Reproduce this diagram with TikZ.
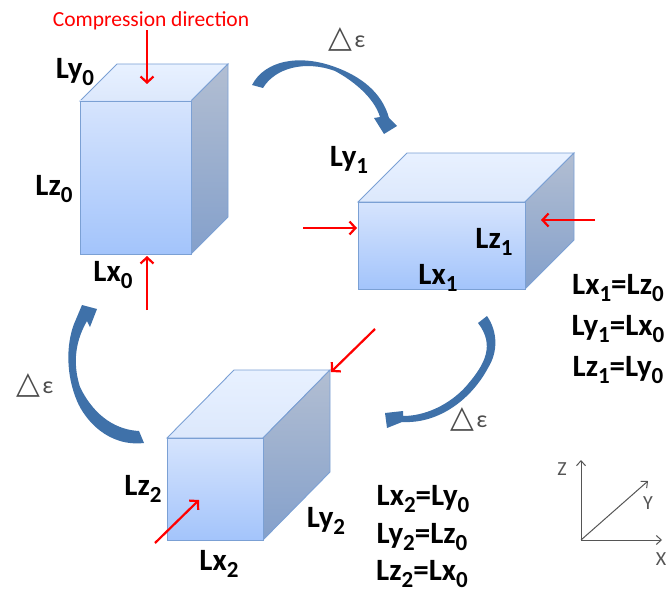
\documentclass[tikz,border=0pt]{standalone}
\usepackage{fontspec}
\setmainfont{Carlito}
\newfontfamily\symfont{DejaVu Sans}
\usetikzlibrary{arrows.meta}
\definecolor{redcol}{HTML}{FF0000}
\definecolor{edgecol}{HTML}{7BA0D4}
\definecolor{curvecol}{HTML}{3F71A9}
\definecolor{axiscol}{HTML}{555555}
\newcommand{\sbs}[1]{\raisebox{-.2em}{\fontsize{23}{23}\selectfont #1}}
\newcommand{\dlt}{{\symfont\fontsize{31}{31}\selectfont\char"25B3}\,\fontsize{24}{24}\selectfont ε}

\begin{document}
\begin{tikzpicture}[x=1pt,y=-1pt,
  lab/.style={font=\fontsize{31}{31}\selectfont\bfseries,inner sep=0pt,text=black},
  deltalab/.style={inner sep=0pt,text=black!70},
  axlab/.style={font=\fontsize{20}{20}\selectfont,inner sep=0pt,text=axiscol},
  squeeze/.style={draw=redcol,line width=2.2pt,-{Straight Barb[length=6pt,width=13pt]}},
  axisline/.style={draw=axiscol,line width=1pt,-{Straight Barb[length=5pt,width=9pt]}},
  curve/.style={fill=curvecol,draw=none},
]
\useasboundingbox (0,0) rectangle (670,594);

% ---------- boxes ----------
\foreach \fx/\fy/\fw/\fh/\dx/\dy in {80/101/111/153/37/37,358/202/167/87/49/49,167/438/96/102/67/68} {
  \shade[top color={rgb,255:red,232;green,241;blue,255},
         bottom color={rgb,255:red,220;green,232;blue,252},draw=edgecol,line width=0.9pt]
    (\fx,\fy) -- ++(\dx,-\dy) -- ++(\fw,0) -- ++(-\dx,\dy) -- cycle;
  \shade[top color={rgb,255:red,178;green,190;blue,210},
         bottom color={rgb,255:red,132;green,160;blue,203},draw=edgecol,line width=0.9pt]
    (\fx+\fw,\fy) -- ++(\dx,-\dy) -- ++(0,\fh) -- ++(-\dx,\dy) -- cycle;
  \shade[top color={rgb,255:red,214;green,228;blue,253},
         bottom color={rgb,255:red,163;green,196;blue,251},draw=edgecol,line width=0.9pt]
    (\fx,\fy) rectangle ++(\fw,\fh);
}

% ---------- curved arrows ----------
\fill[curve] (252,85) .. controls (265,60) and (300,54) .. (335,67)
  .. controls (360,76) and (382,92) .. (389,118) -- (397,126) -- (384,134) -- (374,118) -- (380,117)
  .. controls (374,97) and (352,80) .. (335,71) .. controls (305,60) and (275,68) .. (263,88) -- cycle;
\fill[curve] (478,323) -- (487,316) .. controls (498,332) and (498,352) .. (488,368)
  .. controls (472,398) and (440,424) .. (402,422) -- (387,428) -- (385,413) -- (403,411) -- (403,416)
  .. controls (430,416) and (455,400) .. (468,384) .. controls (485,364) and (495,345) .. (478,323) -- cycle;
\fill[curve] (144,443) -- (139,431) .. controls (118,430) and (95,418) .. (80,387)
  .. controls (74,368) and (73,345) .. (87,321) -- (90,327) -- (97,309) -- (82,305) -- (74,324)
  .. controls (66,345) and (66,375) .. (77,401) .. controls (85,420) and (108,447) .. (144,443) -- cycle;

% ---------- labels ----------
\node[font=\fontsize{21.5}{21.5}\selectfont,text=redcol,inner sep=0pt] (comp) at (151,21) {Compression direction};
\foreach \nm/\px/\py/\a/\b in {lyzero/75/72/Ly/0,lzzero/54/189/Lz/0,lxzero/113/275/Lx/0,
  lyone/349/160/Ly/1,lzone/494/242/Lz/1,lxone/438/278/Lx/1,
  lztwo/143/489/Lz/2,lytwo/326/521/Ly/2,lxtwo/219/564/Lx/2} {
  \node[lab] (\nm) at (\px,\py) {\a\sbs{\b}};
}
\foreach \nm/\px/\py/\a/\b/\c/\d in {eqa/618/288/Lx/1/Lz/0,eqb/618/329/Ly/1/Lx/0,eqc/618/370/Lz/1/Ly/0,
  eqd/423/499/Lx/2/Ly/0,eqe/422/537/Ly/2/Lz/0,eqf/422/574/Lz/2/Lx/0} {
  \node[lab] (\nm) at (\px,\py) {\a\sbs{\b}=\c\sbs{\d}};
}
\node[deltalab] (da) at (347,39) {\dlt};
\node[deltalab] (db) at (35,385) {\dlt};
\node[deltalab] (dc) at (469,419) {\dlt};

% ---------- compression arrows ----------
\coordinate (ta) at (147,84);
\coordinate (ba) at (147,310);
\coordinate (bb) at (147,256);
\coordinate (la) at (303,228);
\coordinate (lb) at (357,228);
\coordinate (ra) at (595,220);
\coordinate (rb) at (541,220);
\coordinate (ua) at (375,329);
\coordinate (ub) at (331,372);
\coordinate (va) at (155,543);
\coordinate (vb) at (199,500);
\draw[squeeze] (comp.south -| ta) -- (ta);
\foreach \p/\q in {ba/bb,la/lb,ra/rb,ua/ub,va/vb} {
  \draw[squeeze] (\p) -- (\q);
}

% ---------- axes ----------
\coordinate (orig) at (581,540);
\coordinate (zend) at (581,460);
\coordinate (xend) at (662,540);
\coordinate (yend) at (648,481);
\foreach \q in {zend,xend,yend} {
  \draw[axisline] (orig) -- (\q);
}
\node[axlab] (zlab) at (562,469) {Z};
\node[axlab] (ylab) at (648,503) {Y};
\node[axlab] (xlab) at (661,559) {X};
\end{tikzpicture}
\end{document}
